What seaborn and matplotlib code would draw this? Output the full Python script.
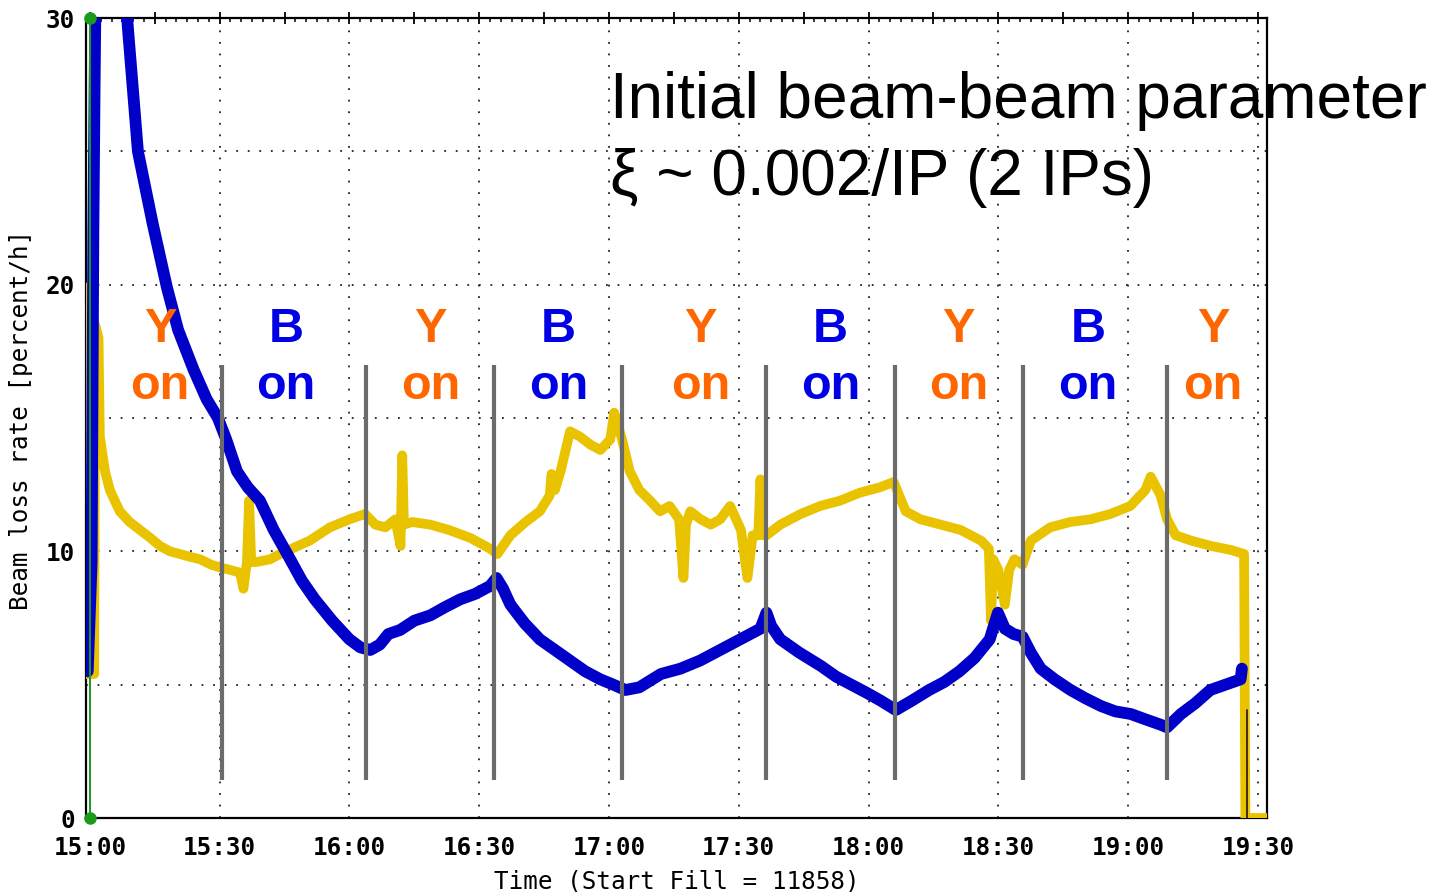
import matplotlib
matplotlib.use("Agg")
import matplotlib.pyplot as plt
import seaborn as sns
import pandas as pd
from matplotlib.ticker import MultipleLocator

# ---- data: minutes after 15:00, beam loss rate [percent/h] ----
blue_t = [-0.5, 0.4, 0.8, 1.1, 1.5, 7.6, 8.6, 11.1, 14.5, 17.8, 20.4, 24.0, 27.0, 29.6,
          31.5, 34.0, 36.5, 39.3, 42.5, 46.3, 49.0, 52.0, 56.0, 60.0, 62.5, 64.8, 67.0,
          69.0, 71.7, 75.0, 78.7, 82.0, 85.6, 89.0, 92.5, 94.0, 95.5, 97.2, 100.5, 104.0,
          107.5, 111.0, 114.5, 118.0, 121.0, 123.8, 127.0, 132.0, 136.5, 141.0, 144.5,
          148.0, 151.5, 155.0, 156.4, 157.5, 159.6, 164.0, 169.0, 172.5, 176.0, 179.5,
          182.8, 186.3, 190.0, 194.0, 197.5, 201.0, 204.5, 208.0, 209.9, 211.5, 213.5,
          215.6, 217.5, 219.8, 223.0, 226.7, 230.0, 233.7, 237.0, 240.6, 244.0, 247.5,
          249.0, 252.2, 255.5, 259.0, 262.5, 266.0, 266.3]
blue_v = [5.5, 9.6, 22.0, 27.7, 34.0, 34.0, 30.0, 25.0, 22.3, 19.9, 18.3, 16.8, 15.7, 15.0,
          14.2, 13.0, 12.4, 11.9, 10.8, 9.7, 8.9, 8.2, 7.4, 6.7, 6.4, 6.3, 6.5,
          6.9, 7.05, 7.4, 7.6, 7.9, 8.2, 8.4, 8.7, 9.0, 8.6, 8.0, 7.3, 6.7,
          6.3, 5.9, 5.5, 5.2, 5.0, 4.8, 4.9, 5.4, 5.6, 5.9, 6.2,
          6.5, 6.8, 7.1, 7.7, 7.2, 6.7, 6.2, 5.7, 5.3, 5.0, 4.7,
          4.4, 4.05, 4.4, 4.8, 5.1, 5.5, 6.0, 6.7, 7.7, 7.1, 6.9,
          6.8, 6.2, 5.6, 5.2, 4.8, 4.5, 4.2, 4.0, 3.9, 3.7, 3.5,
          3.4, 3.9, 4.3, 4.8, 5.0, 5.2, 5.6]

yellow_t = [-0.8, -0.8, -0.6, 1.0, 1.2, 2.0, 2.3, 3.5, 4.6, 6.9, 9.2, 11.6, 14.0, 16.2,
            18.5, 20.8, 23.0, 25.5, 28.0, 30.0, 32.5, 34.7, 35.5, 36.3, 36.8, 37.3, 38.5,
            41.6, 44.0, 46.0, 50.8, 55.5, 60.0, 63.6, 66.0, 68.3, 70.6, 71.8, 72.2, 72.6,
            74.5, 78.7, 83.0, 88.0, 92.5, 94.2, 97.2, 100.7, 104.0, 106.3, 106.7, 107.5,
            108.8, 111.0, 113.3, 115.7, 118.0, 120.3, 121.2, 123.0, 124.8, 127.0, 129.5,
            131.8, 134.0, 136.2, 137.2, 137.8, 138.8, 141.2, 143.5, 145.7, 148.0, 150.5,
            152.0, 153.2, 154.5, 155.0, 155.6, 156.4, 159.6, 164.3, 168.8, 173.4, 178.0,
            182.6, 185.8, 188.6, 192.0, 196.7, 201.3, 206.0, 207.8, 208.3, 208.8, 210.0,
            211.5, 212.5, 213.7, 215.6, 217.5, 222.0, 226.6, 231.3, 235.9, 240.5, 244.0,
            245.2, 247.5, 249.0, 251.0, 254.6, 259.2, 263.8, 266.8, 267.1, 272.1]
yellow_v = [5.4, 19.9, 5.4, 5.4, 18.5, 18.0, 14.3, 13.0, 12.3, 11.5, 11.1, 10.8, 10.5, 10.2,
            10.0, 9.9, 9.8, 9.7, 9.5, 9.4, 9.3, 9.2, 8.6, 9.6, 11.9, 9.6, 9.6,
            9.7, 9.9, 10.05, 10.4, 10.9, 11.2, 11.4, 11.0, 10.9, 11.2, 10.2, 13.6, 11.0,
            11.1, 11.0, 10.8, 10.5, 10.1, 9.9, 10.6, 11.1, 11.5, 12.1, 12.9, 12.3,
            13.0, 14.5, 14.3, 14.0, 13.8, 14.2, 15.2, 14.2, 13.0, 12.3, 11.9,
            11.5, 11.7, 11.2, 9.0, 11.0, 11.5, 11.2, 11.0, 11.2, 11.7, 10.8,
            9.0, 10.6, 10.6, 12.7, 10.6, 10.6, 11.0, 11.4, 11.7, 11.9, 12.2,
            12.4, 12.6, 11.5, 11.2, 11.0, 10.8, 10.4, 10.1, 7.4, 9.7, 9.3,
            8.0, 9.3, 9.7, 9.5, 10.4, 10.9, 11.1, 11.2, 11.4, 11.7, 12.3,
            12.8, 12.1, 11.2, 10.6, 10.4, 10.2, 10.05, 9.9, 0.0, 0.0]

# beam dump marker trace and fill start marker
dump_t = [267.5, 267.5]
dump_v = [4.05, 0.0]
start_t = [0.0, 0.0]
start_v = [0.0, 30.0]

# times at which the beam-beam interaction was switched
switch_t = [30.5, 63.9, 93.5, 123.1, 156.4, 186.0, 215.6, 249.0]
phase_beam = ["Y", "B", "Y", "B", "Y", "B", "Y", "B", "Y"]
phase_x = [16.2, 45.3, 78.7, 108.3, 141.1, 171.2, 200.8, 230.7, 259.6]

xtick_pos = [0, 30, 60, 90, 120, 150, 180, 210, 240, 270]
xtick_labels = ["15:00", "15:30", "16:00", "16:30", "17:00",
                "17:30", "18:00", "18:30", "19:00", "19:30"]
ytick_pos = [0, 5, 10, 15, 20, 25, 30]
ytick_labels = ["0", "", "10", "", "20", "", "30"]

sns.set_style("white")
plt.rcParams["font.family"] = ["DejaVu Sans Mono"]
plt.rcParams["text.color"] = "black"
plt.rcParams["axes.labelcolor"] = "black"
plt.rcParams["xtick.color"] = "black"
plt.rcParams["ytick.color"] = "black"

fig = plt.figure(figsize=(14.39, 8.92), dpi=100)
ax = fig.add_axes([86 / 1439, 1 - 818 / 892, (1267 - 86) / 1439, 800 / 892])

YELLOW = "#E9C300"
BLUE = "#0000C8"

df_y = pd.DataFrame({"t": yellow_t, "v": yellow_v})
df_b = pd.DataFrame({"t": blue_t, "v": blue_v})
sns.lineplot(data=df_y, x="t", y="v", sort=False, estimator=None, color=YELLOW,
             linewidth=7, ax=ax, zorder=3)
sns.lineplot(data=df_b, x="t", y="v", sort=False, estimator=None, color=BLUE,
             linewidth=8.5, ax=ax, zorder=4)
sns.lineplot(x=dump_t, y=dump_v, sort=False, estimator=None, color="#3a1c1c",
             linewidth=1.3, ax=ax, zorder=5)
sns.lineplot(x=start_t, y=start_v, sort=False, estimator=None, color="#1c9a1c",
             linewidth=1.4, ax=ax, zorder=5)
ax.plot(start_t, start_v, linestyle="none", marker="o", markersize=8,
        color="#1c9a1c", clip_on=False, zorder=6)

# switch markers
ax.vlines(switch_t, 1.42, 17.0, color="#6b6b6b", linewidth=3, zorder=6)

# Y on / B on labels
for bx, beam in zip(phase_x, phase_beam):
    col = "#FF6600" if beam == "Y" else "#0000E6"
    ax.text(bx, 17.85, beam, color=col, ha="center", va="baseline",
            fontsize=35, fontweight="bold", family="Liberation Sans", zorder=7)
    ax.text(bx, 15.71, "on", color=col, ha="center", va="baseline",
            fontsize=35, fontweight="bold", family="Liberation Sans", zorder=7)

ax.set_xlim(-0.9, 272.1)
ax.set_ylim(0, 30)

# dotted grid
for gx in xtick_pos:
    ax.axvline(gx, color="#222222", linewidth=1.3, linestyle=(0, (1, 5.4)), zorder=1)
for gy in [5, 10, 15, 20, 25]:
    ax.axhline(gy, color="#222222", linewidth=1.3, linestyle=(0, (1, 5.4)), zorder=1)

ax.xaxis.set_minor_locator(MultipleLocator(2.5))
major_x = list(range(0, 271, 15))
ax.set_xticks(major_x)
ax.set_xticklabels([xtick_labels[xtick_pos.index(p)] if p in xtick_pos else ""
                    for p in major_x])
ax.set_yticks(ytick_pos)
ax.set_yticklabels(ytick_labels)

ax.tick_params(axis="x", which="major", direction="inout", length=8, width=1.3,
               top=True, pad=9, labelsize=17.5, colors="black")
ax.tick_params(axis="x", which="minor", direction="in", length=3, width=1.1, top=True)
ax.tick_params(axis="y", which="major", direction="out", length=5, width=1.3,
               pad=3, labelsize=17.5, colors="black")
for lab in ax.get_xticklabels() + ax.get_yticklabels():
    lab.set_fontweight("bold")
    lab.set_color("black")

for sp in ax.spines.values():
    sp.set_color("black")
    sp.set_linewidth(1.6)
    sp.set_visible(True)

ax.set_xlabel("Time (Start Fill = 11858)", fontsize=17.5, color="black")
ax.set_ylabel("Beam loss rate [percent/h]", fontsize=17.5, color="black")
ax.xaxis.set_label_coords(0.5, -0.064)
ax.yaxis.set_label_coords(-0.0445, 0.4975)

fig.text(610 / 1439, 1 - 118 / 892, "Initial beam-beam parameter", color="black",
         fontsize=46, family="Liberation Sans", ha="left", va="baseline")
fig.text(610 / 1439, 1 - 195 / 892, "ξ ~ 0.002/IP (2 IPs)", color="black",
         fontsize=46, family="Liberation Sans", ha="left", va="baseline")

fig.savefig("out.png", dpi=100, facecolor="white")
